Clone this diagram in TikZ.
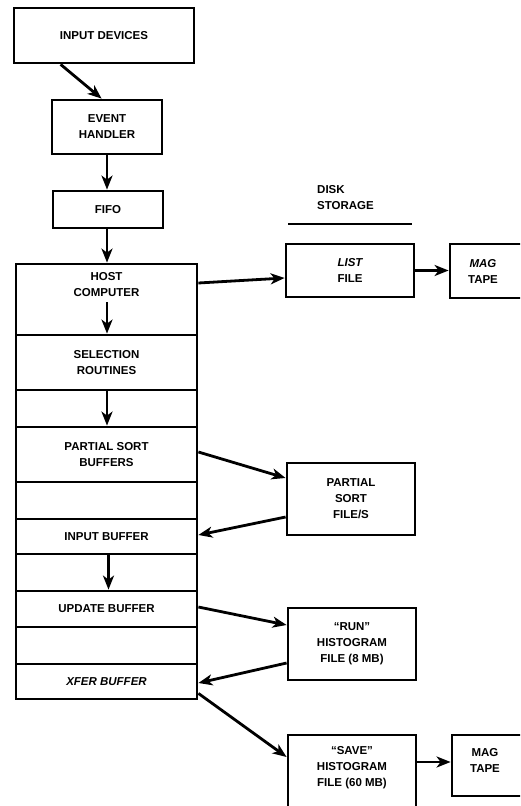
\documentclass[tikz,border=0pt]{standalone}
\usepackage{fontspec}
\setmainfont{Liberation Sans}
\usetikzlibrary{arrows.meta}
\begin{document}
\begin{tikzpicture}[x=1pt,y=-1pt,
  box/.style={draw,line width=2.8pt,inner sep=0pt,rectangle},
  lbl/.style={font=\bfseries\fontsize{11.5}{16}\selectfont,align=center,inner sep=0pt},
  arr/.style={line width=2.8pt,-{Stealth[length=14pt,width=11pt,inset=4pt]}}]
\clip (0,0) rectangle (520,806);
\useasboundingbox (0,0) rectangle (520,806);
% top chain
\node[box,minimum width=180,minimum height=55,lbl] (dev) at (104,35.5) {INPUT DEVICES};
\node[box,minimum width=110,minimum height=54,lbl] (evh) at (107,127) {EVENT\\HANDLER};
\node[box,minimum width=110,minimum height=37,lbl] (fifo) at (108,209.5) {FIFO};
% column
\node[box,minimum width=181,minimum height=71] (host) at (106.5,299.5) {};
\node[lbl] (hostt) at (106.5,285) {HOST\\COMPUTER};
\node[box,minimum width=181,minimum height=55,lbl] (sel) at (106.5,362.5) {SELECTION\\ROUTINES};
\node[box,minimum width=181,minimum height=37] (e1) at (106.5,408.5) {};
\node[box,minimum width=181,minimum height=55,lbl] (psb) at (106.5,454.5) {PARTIAL SORT\\BUFFERS};
\node[box,minimum width=181,minimum height=37] (e2) at (106.5,500.5) {};
\node[box,minimum width=181,minimum height=35,lbl] (inb) at (106.5,536.5) {INPUT BUFFER};
\node[box,minimum width=181,minimum height=37] (e3) at (106.5,572.5) {};
\node[box,minimum width=181,minimum height=36,lbl] (upd) at (106.5,609) {UPDATE BUFFER};
\node[box,minimum width=181,minimum height=37] (e4) at (106.5,645.5) {};
\node[box,minimum width=181,minimum height=35,lbl] (xfer) at (106.5,681.5) {\itshape XFER BUFFER};
% disk storage
\node[lbl,align=left,anchor=west] (disk) at (317,197.5) {DISK\\STORAGE};
\coordinate (dl1) at (288,224);
\coordinate (dl2) at (412,224);
\draw[line width=2.6pt] (dl1) -- (dl2);
\node[box,minimum width=128,minimum height=53,lbl] (list) at (350,270.5) {\itshape LIST\\FILE};
\node[box,minimum width=90,minimum height=54] (mag1) at (495,271) {};
\node[lbl] (mag1t) at (483,271) {\itshape MAG\\TAPE};
\node[box,minimum width=128,minimum height=72,lbl] (psf) at (351,499) {PARTIAL\\SORT\\FILE/S};
\node[box,minimum width=128,minimum height=72,lbl] (run) at (352,644) {“RUN”\\HISTOGRAM\\FILE (8 MB)};
\node[box,minimum width=128,minimum height=100] (save) at (352,785) {};
\node[lbl] (savet) at (352,767.5) {“SAVE”\\HISTOGRAM\\FILE (60 MB)};
\node[box,minimum width=90,minimum height=61] (mag2) at (497,765.5) {};
\node[lbl] (mag2t) at (485,760.5) {MAG\\TAPE};
% arrows
\draw[arr] ([xshift=48]dev.south west) -- ([xshift=51]evh.north west);
\draw[arr] (evh.south) -- (fifo.north -| evh.south);
\draw[arr] (fifo.south -| evh.south) -- (host.north -| evh.south);
\coordinate (hs) at (107,302);
\draw[arr] (hs) -- (hs |- sel.north);
\draw[arr] (sel.south -| hs) -- (psb.north -| hs);
\draw[arr] ([xshift=2]inb.south) -- ([xshift=2]upd.north);
\draw[arr] ([yshift=16.5]host.east) -- ([yshift=-7.5]list.west);
\draw[arr] (list.east) -- (list.east -| mag1.west);
\draw[arr] ([yshift=2.5]psb.east) -- ([yshift=21]psf.west);
\draw[arr] ([yshift=-18]psf.west) -- ([yshift=1.5]inb.east);
\draw[arr] ([yshift=2]upd.east) -- ([yshift=19]run.west);
\draw[arr] ([yshift=-19]run.west) -- ([yshift=-1.5]xfer.east);
\draw[arr] ([yshift=7]xfer.south east) -- ([yshift=28]save.west);
\draw[arr] ([yshift=23]save.east) -- ([yshift=23]save.east -| mag2.west);
\end{tikzpicture}
\end{document}
